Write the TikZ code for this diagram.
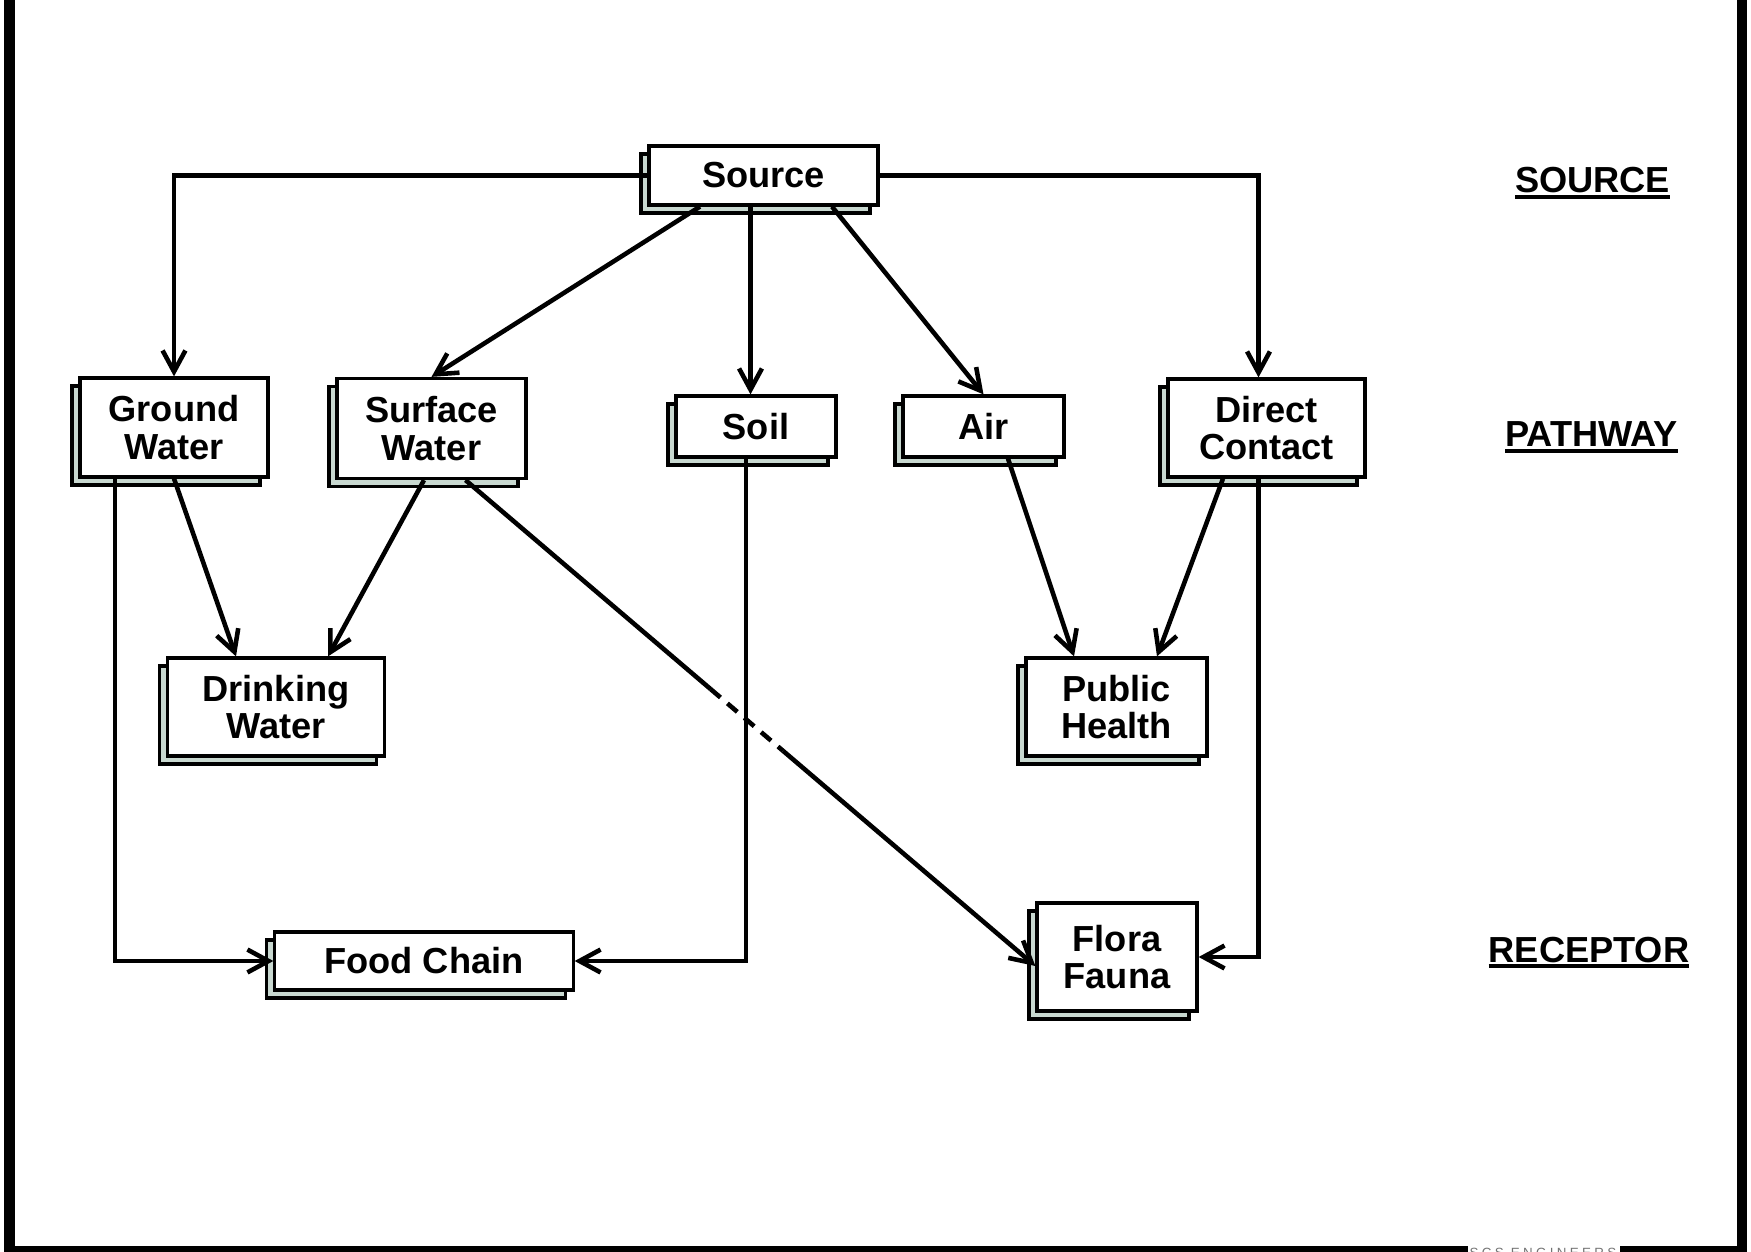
\documentclass[tikz,border=0pt]{standalone}
\usepackage{fontspec}
\setmainfont{Liberation Sans}
\newfontfamily\scsfont[LetterSpace=25]{Liberation Sans}
\usetikzlibrary{arrows.meta,calc,shadows}
\definecolor{shcol}{RGB}{200,216,208}
\newcommand\ulabel[1]{\setbox0\hbox{#1}\makebox[0pt][l]{\rule[-1.75pt]{\wd0}{1.15pt}}\box0}
\begin{document}
\begin{tikzpicture}[x=0.01cm,y=-0.01cm,
  box/.style={draw=black, line width=0.9pt, fill=white, inner sep=0pt, align=center,
    font=\fontsize{10.3}{10.6}\selectfont\bfseries,
    copy shadow={shadow xshift=-0.08cm, shadow yshift=-0.08cm, fill=shcol, draw=black, line width=0.9pt}},
  arr/.style={line width=1.3pt, -{Straight Barb[length=6pt,width=6.5pt]}},
  conn/.style={line width=1.3pt},
  frame/.style={line width=3.1pt},
  lvl/.style={font=\fontsize{10.3}{12}\selectfont\bfseries, inner sep=0pt, anchor=base}]
\useasboundingbox (0,0) rectangle (1751,1252);
\clip (0,0) rectangle (1751,1252);

% frame
\draw[frame] (9.5,-20) -- (9.5,1251) -- (1468,1251);
\draw[frame] (1620,1251) -- (1742,1251) -- (1742,-20);
\node[anchor=north, inner sep=0pt, text=black!55, font=\scsfont\fontsize{3.8}{4}\selectfont] (scs) at (1543,1247) {SCS ENGINEERS};

% boxes
\node[box, minimum width=2.29cm, minimum height=0.59cm] (Source) at (763.5,175.5) {Source};
\node[box, minimum width=1.88cm, minimum height=0.99cm] (GW) at (174,427.5) {Ground\\Water};
\node[box, minimum width=1.89cm, minimum height=1.00cm] (SW) at (431.5,428.5) {Surface\\Water};
\node[box, minimum width=1.60cm, minimum height=0.61cm] (Soil) at (756,426.5) {Soil};
\node[box, minimum width=1.61cm, minimum height=0.61cm] (Air) at (983.5,426.5) {Air};
\node[box, minimum width=1.97cm, minimum height=0.98cm] (DC) at (1266.5,428) {Direct\\Contact};
\node[box, minimum width=2.175cm, minimum height=0.98cm] (DW) at (276,707) {Drinking\\Water};
\node[box, minimum width=1.81cm, minimum height=0.98cm] (PH) at (1116.5,707) {Public\\Health};
\node[box, minimum width=2.98cm, minimum height=0.58cm] (FC) at (424,961) {Food Chain};
\node[box, minimum width=1.60cm, minimum height=1.08cm] (FF) at (1117,957) {Flora\\Fauna};

% level labels
\node[lvl] (lsrc) at (1592.5,193) {\ulabel{SOURCE}};
\node[lvl] (lpath) at (1591.5,447) {\ulabel{PATHWAY}};
\node[lvl] (lrec) at (1589,962) {\ulabel{RECEPTOR}};

% connectors
\draw[arr] (Source.west) -| (GW.north);
\draw[arr] (Source.east) -| ($(DC.north)+(-8,0)$);
\draw[arr] ($(Source.south)+(-63.5,0)$) -- (SW.north);
\draw[arr] ($(Source.south)+(-13,0)$) -- ($(Soil.north)+(-5.5,0)$);
\draw[arr] ($(Source.south)+(68.5,0)$) -- (Air.north);
\draw[arr] (GW.south) -- ($(DW.north)+(-40,0)$);
\draw[arr] ($(SW.south)+(-7.5,0)$) -- ($(DW.north)+(52,0)$);
\draw[arr] ($(GW.south)+(-59,0)$) |- (FC.west);
\draw[arr] ($(Soil.south)+(-10,0)$) |- (FC.east);
\coordinate (swa) at ($(SW.south)+(34,0)$);
\coordinate (ffa) at ($(FF.west)+(0,9)$);
\draw[conn] (swa) -- ($(swa)!0.43!(ffa)$);
\draw[conn, dash pattern=on 3.7pt off 2.6pt] ($(swa)!0.43!(ffa)$) -- ($(swa)!0.557!(ffa)$);
\draw[arr] ($(swa)!0.557!(ffa)$) -- (ffa);
\draw[arr] ($(Air.south)+(24.5,0)$) -- ($(PH.north)+(-42.5,0)$);
\draw[arr] ($(DC.south)+(-43.5,0)$) -- ($(PH.north)+(40.5,0)$);
\draw[arr] ($(DC.south)+(-8,0)$) |- (FF.east);
\end{tikzpicture}
\end{document}
